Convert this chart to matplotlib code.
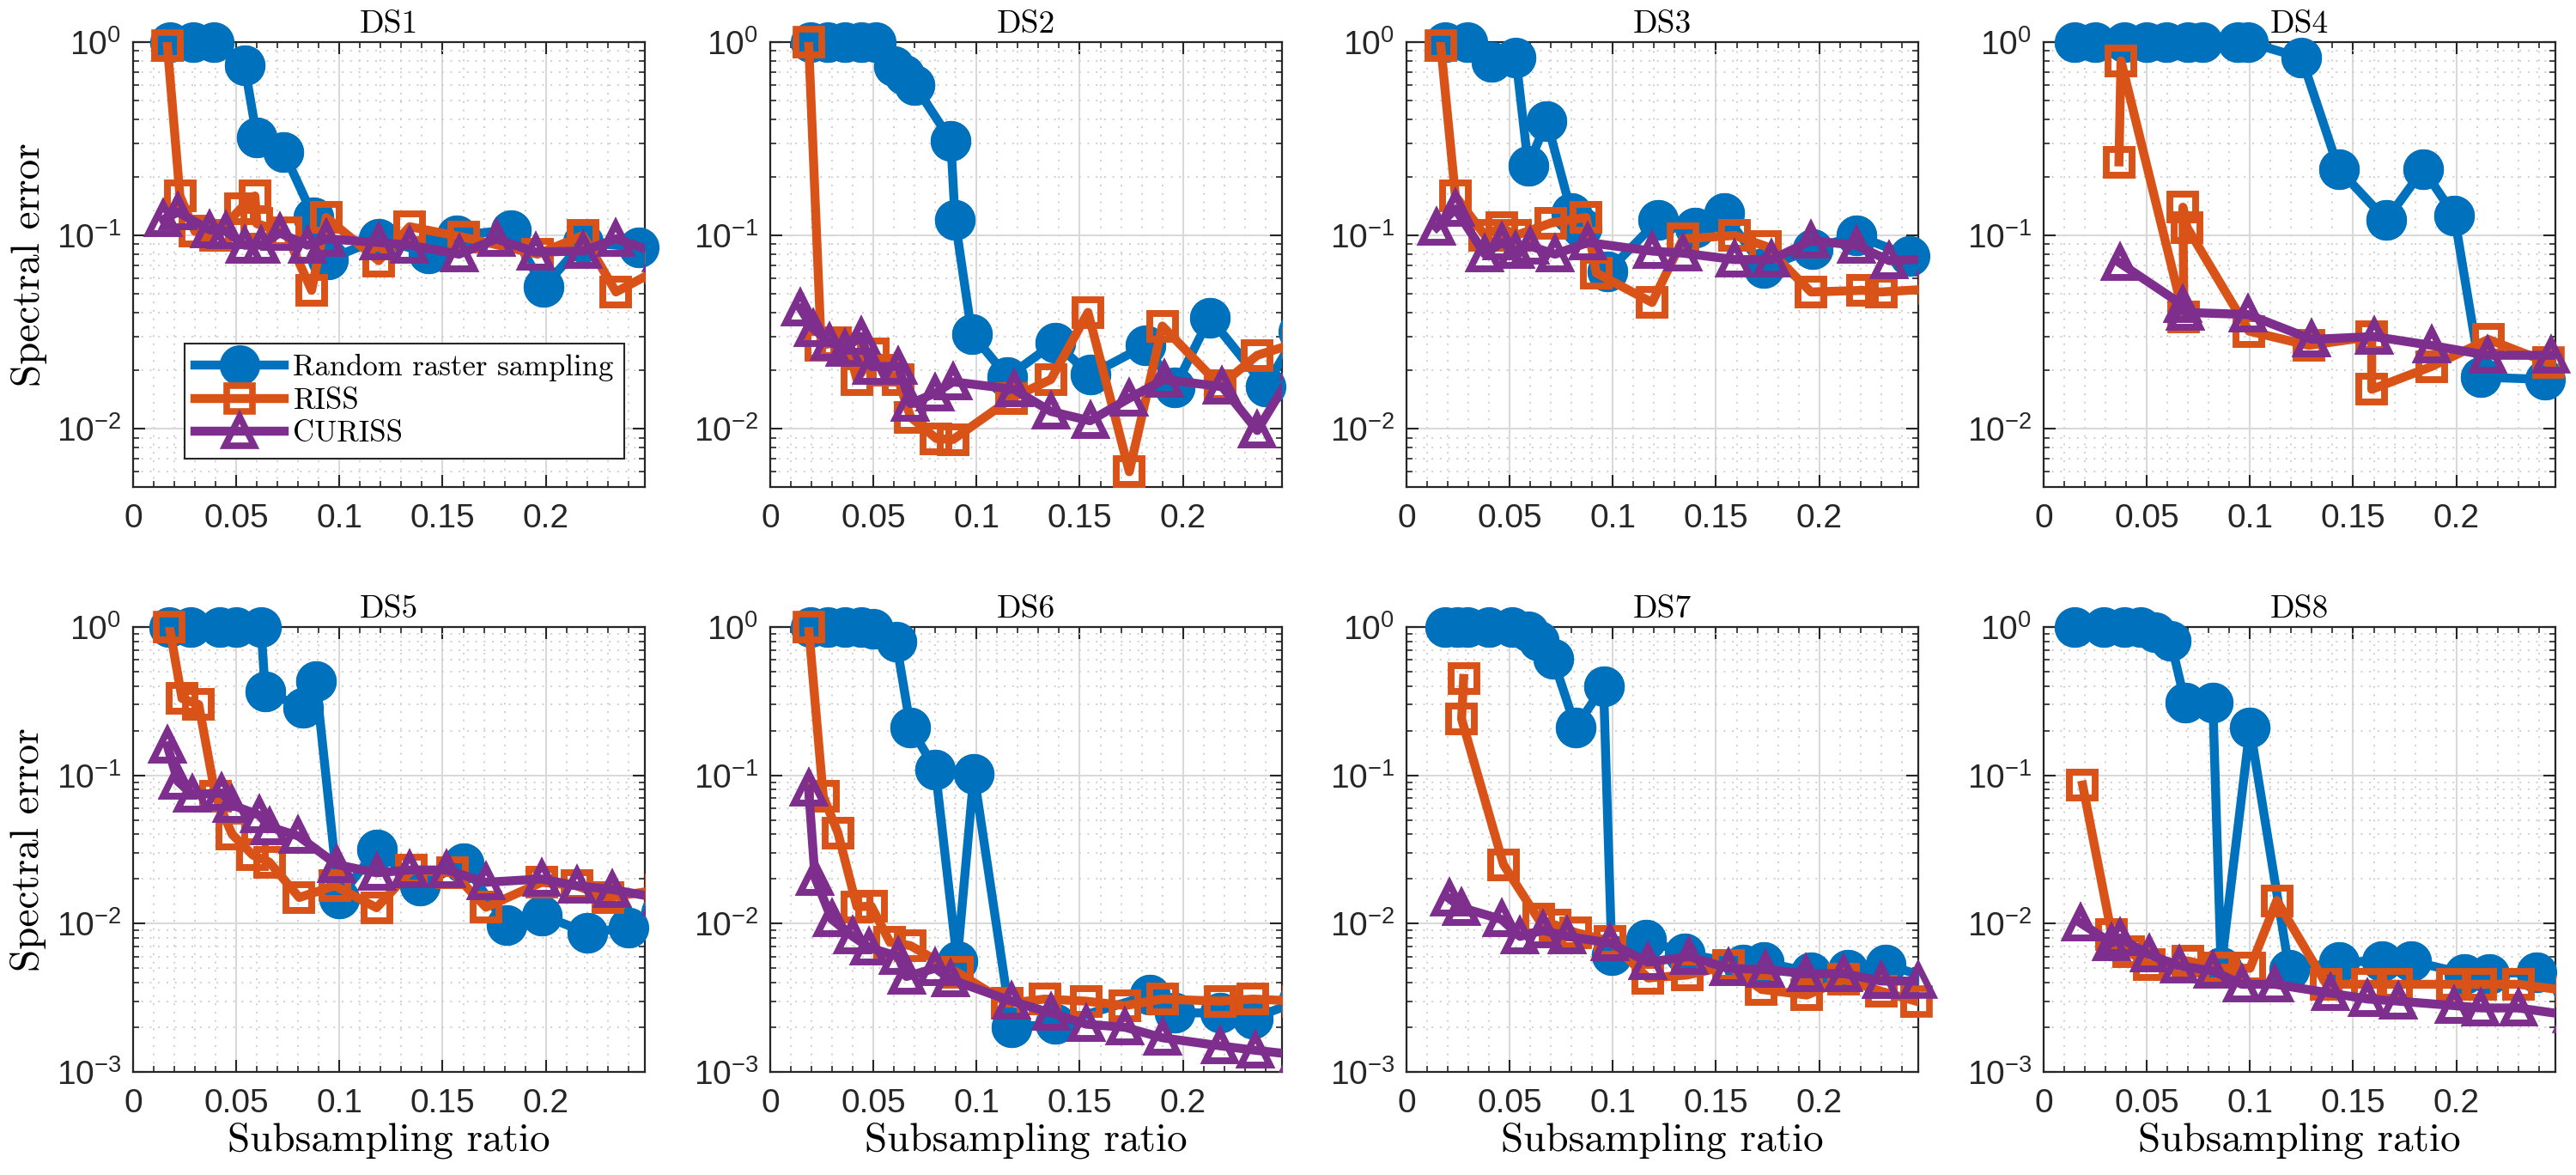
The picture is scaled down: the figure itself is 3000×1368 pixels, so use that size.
import numpy as np
import matplotlib
matplotlib.use("Agg")
import matplotlib.pyplot as plt
from matplotlib.ticker import FixedLocator, MultipleLocator, LogLocator, NullFormatter

plt.rcParams['font.family'] = ['Liberation Sans', 'DejaVu Sans']
plt.rcParams['mathtext.fontset'] = 'custom'
plt.rcParams['mathtext.rm'] = 'Liberation Sans'
plt.rcParams['mathtext.it'] = 'Liberation Sans:italic'
plt.rcParams['mathtext.bf'] = 'Liberation Sans:bold'

# (subsampling ratio, spectral error)
ds1_rrs = [(0.018, 1), (0.029, 1), (0.039, 1), (0.054, 0.76), (0.060, 0.32), (0.073, 0.27), (0.0875, 0.124),
           (0.0946, 0.075), (0.119, 0.096), (0.143, 0.081), (0.157, 0.10), (0.183, 0.107), (0.199, 0.054),
           (0.218, 0.092), (0.245, 0.087)]
ds1_riss = [(0.0166, 0.96), (0.0227, 0.16), (0.030, 0.105), (0.040, 0.10), (0.052, 0.137), (0.059, 0.16),
            (0.060, 0.115), (0.074, 0.103), (0.0865, 0.052), (0.0936, 0.124), (0.119, 0.074), (0.134, 0.111),
            (0.160, 0.098), (0.196, 0.08), (0.218, 0.10), (0.234, 0.051), (0.256, 0.068)]
ds1_curiss = [(0.0146, 0.121), (0.0217, 0.132), (0.0369, 0.107), (0.045, 0.105), (0.054, 0.089), (0.062, 0.089),
              (0.071, 0.103), (0.0845, 0.089), (0.0936, 0.096), (0.119, 0.092), (0.134, 0.089), (0.158, 0.080),
              (0.176, 0.096), (0.195, 0.082), (0.218, 0.083), (0.234, 0.096), (0.256, 0.08)]

ds2_rrs = [(0.0197, 1), (0.0278, 1), (0.036, 1), (0.044, 1), (0.051, 1), (0.060, 0.75), (0.065, 0.68),
           (0.070, 0.6), (0.0875, 0.31), (0.0896, 0.12), (0.0977, 0.031), (0.115, 0.0185), (0.138, 0.028),
           (0.155, 0.019), (0.182, 0.027), (0.196, 0.0163), (0.213, 0.0376), (0.240, 0.0165), (0.256, 0.032)]
ds2_riss = [(0.0186, 1), (0.0247, 0.027), (0.0318, 0.028), (0.038, 0.026), (0.042, 0.018), (0.050, 0.0244),
            (0.056, 0.02), (0.062, 0.018), (0.068, 0.0115), (0.0805, 0.0089), (0.0886, 0.0088), (0.117, 0.0144),
            (0.136, 0.018), (0.154, 0.040), (0.174, 0.006), (0.190, 0.034), (0.218, 0.0167), (0.236, 0.024),
            (0.256, 0.028)]
ds2_curiss = [(0.0146, 0.042), (0.0207, 0.033), (0.0288, 0.028), (0.036, 0.026), (0.044, 0.030), (0.049, 0.021),
              (0.062, 0.021), (0.068, 0.0135), (0.080, 0.0153), (0.0886, 0.0175), (0.118, 0.016), (0.136, 0.0123),
              (0.155, 0.011), (0.174, 0.0144), (0.191, 0.018), (0.219, 0.0165), (0.236, 0.0098), (0.256, 0.022)]

ds3_rrs = [(0.0186, 1), (0.0297, 1), (0.041, 0.79), (0.053, 0.83), (0.059, 0.23), (0.068, 0.39), (0.080, 0.13),
           (0.085, 0.11), (0.0975, 0.065), (0.122, 0.12), (0.140, 0.11), (0.154, 0.13), (0.173, 0.068),
           (0.197, 0.085), (0.218, 0.10), (0.244, 0.078)]
ds3_riss = [(0.0166, 0.96), (0.0237, 0.16), (0.038, 0.10), (0.046, 0.11), (0.053, 0.10), (0.070, 0.116),
            (0.087, 0.124), (0.092, 0.064), (0.119, 0.045), (0.134, 0.096), (0.159, 0.10), (0.174, 0.088),
            (0.196, 0.051), (0.221, 0.052), (0.230, 0.051), (0.256, 0.053)]
ds3_curiss = [(0.0146, 0.11), (0.0237, 0.137), (0.038, 0.08), (0.046, 0.092), (0.053, 0.083), (0.060, 0.088),
              (0.072, 0.08), (0.088, 0.092), (0.119, 0.083), (0.134, 0.081), (0.159, 0.075), (0.177, 0.075),
              (0.196, 0.094), (0.218, 0.089), (0.234, 0.074), (0.256, 0.076)]

ds4_rrs = [(0.0148, 1), (0.025, 1), (0.039, 1), (0.050, 1), (0.0595, 1), (0.0697, 1), (0.077, 1), (0.094, 1),
           (0.099, 1), (0.125, 0.83), (0.143, 0.22), (0.166, 0.12), (0.184, 0.22), (0.199, 0.127),
           (0.212, 0.0185), (0.243, 0.018), (0.256, 0.02)]
ds4_riss = [(0.0365, 0.24), (0.0375, 0.80), (0.068, 0.038), (0.0675, 0.14), (0.0695, 0.11), (0.0995, 0.032),
            (0.1285, 0.027), (0.159, 0.030), (0.159, 0.016), (0.188, 0.021), (0.2155, 0.029), (0.2445, 0.022),
            (0.256, 0.022)]
ds4_curiss = [(0.037, 0.072), (0.0676, 0.0435), (0.0686, 0.040), (0.099, 0.039), (0.130, 0.029), (0.160, 0.030),
              (0.188, 0.027), (0.215, 0.024), (0.246, 0.024)]

ds5_rrs = [(0.0176, 1), (0.0278, 1), (0.042, 1), (0.050, 1), (0.062, 1), (0.064, 0.37), (0.0825, 0.284),
           (0.0886, 0.43), (0.0997, 0.0148), (0.118, 0.0316), (0.139, 0.018), (0.160, 0.0257), (0.181, 0.0098),
           (0.198, 0.0114), (0.220, 0.0087), (0.240, 0.0094), (0.256, 0.012)]
ds5_riss = [(0.0176, 1), (0.0237, 0.33), (0.0318, 0.30), (0.040, 0.072), (0.048, 0.040), (0.058, 0.029),
            (0.066, 0.026), (0.0805, 0.015), (0.0977, 0.018), (0.118, 0.0128), (0.135, 0.023), (0.155, 0.022),
            (0.171, 0.0129), (0.198, 0.019), (0.215, 0.018), (0.230, 0.015), (0.256, 0.017)]
ds5_curiss = [(0.0166, 0.158), (0.0217, 0.091), (0.0288, 0.074), (0.043, 0.076), (0.048, 0.063), (0.061, 0.054),
              (0.066, 0.045), (0.080, 0.039), (0.0987, 0.025), (0.118, 0.022), (0.134, 0.023), (0.152, 0.023),
              (0.171, 0.019), (0.198, 0.020), (0.215, 0.018), (0.232, 0.017), (0.256, 0.0148)]

ds6_rrs = [(0.0197, 1), (0.0278, 1), (0.036, 1), (0.044, 1), (0.050, 0.98), (0.061, 0.80), (0.068, 0.21),
           (0.080, 0.11), (0.0906, 0.0056), (0.0987, 0.102), (0.117, 0.0020), (0.138, 0.0021), (0.184, 0.0033),
           (0.196, 0.0025), (0.218, 0.0025), (0.234, 0.0023), (0.256, 0.0030)]
ds6_riss = [(0.0186, 1), (0.0257, 0.072), (0.0328, 0.041), (0.042, 0.013), (0.049, 0.0131), (0.058, 0.0075),
            (0.068, 0.0071), (0.0906, 0.0047), (0.115, 0.0029), (0.133, 0.0031), (0.153, 0.0030), (0.172, 0.0028),
            (0.190, 0.0031), (0.218, 0.0030), (0.234, 0.0031), (0.256, 0.0030)]
ds6_curiss = [(0.0186, 0.081), (0.0217, 0.0204), (0.0298, 0.0107), (0.040, 0.0082), (0.048, 0.0069),
              (0.062, 0.006), (0.066, 0.0044), (0.080, 0.005), (0.0875, 0.0042), (0.117, 0.0030), (0.136, 0.0025),
              (0.153, 0.0021), (0.172, 0.0020), (0.190, 0.0017), (0.218, 0.0015), (0.235, 0.0014), (0.256, 0.0013)]

ds7_rrs = [(0.0186, 1), (0.0247, 1), (0.0297, 1), (0.040, 1), (0.051, 1), (0.059, 0.94), (0.064, 0.81),
           (0.071, 0.61), (0.082, 0.21), (0.0955, 0.40), (0.0995, 0.0061), (0.116, 0.0078), (0.135, 0.0063),
           (0.163, 0.0053), (0.173, 0.0055), (0.196, 0.0047), (0.214, 0.0049), (0.232, 0.0053), (0.256, 0.0042)]
ds7_riss = [(0.0277, 0.45), (0.0267, 0.24), (0.047, 0.025), (0.064, 0.0107), (0.072, 0.0098), (0.082, 0.0087),
            (0.0985, 0.0076), (0.117, 0.0043), (0.136, 0.0045), (0.156, 0.0052), (0.172, 0.0036), (0.194, 0.0033),
            (0.212, 0.0042), (0.230, 0.0035), (0.247, 0.0030)]
ds7_curiss = [(0.0206, 0.0148), (0.0267, 0.0128), (0.046, 0.0107), (0.055, 0.0082), (0.066, 0.009),
              (0.078, 0.0082), (0.0985, 0.0074), (0.117, 0.0055), (0.137, 0.006), (0.156, 0.005), (0.174, 0.0049),
              (0.1935, 0.0046), (0.212, 0.0046), (0.230, 0.0041), (0.248, 0.0041)]

ds8_rrs = [(0.0148, 1), (0.029, 1), (0.039, 1), (0.047, 1), (0.054, 0.92), (0.0615, 0.81), (0.0686, 0.31),
           (0.082, 0.31), (0.086, 0.0051), (0.100, 0.21), (0.119, 0.0049), (0.143, 0.0055), (0.164, 0.0056),
           (0.178, 0.0056), (0.204, 0.0046), (0.216, 0.0046), (0.239, 0.0047), (0.256, 0.0038)]
ds8_riss = [(0.0189, 0.086), (0.033, 0.0085), (0.041, 0.0065), (0.051, 0.0053), (0.070, 0.0056), (0.085, 0.0050),
            (0.100, 0.0050), (0.113, 0.0143), (0.137, 0.0039), (0.157, 0.0039), (0.171, 0.0039), (0.198, 0.0039),
            (0.212, 0.0039), (0.230, 0.0039), (0.256, 0.0035)]
ds8_curiss = [(0.0179, 0.0101), (0.033, 0.0074), (0.037, 0.008), (0.051, 0.0062), (0.0656, 0.0052),
              (0.082, 0.0048), (0.096, 0.0039), (0.112, 0.0039), (0.139, 0.0034), (0.157, 0.0031), (0.172, 0.0030),
              (0.199, 0.0028), (0.212, 0.0027), (0.230, 0.0027), (0.256, 0.0024)]

titles = ["DS1", "DS2", "DS3", "DS4", "DS5", "DS6", "DS7", "DS8"]
panels = [(ds1_rrs, ds1_riss, ds1_curiss), (ds2_rrs, ds2_riss, ds2_curiss),
          (ds3_rrs, ds3_riss, ds3_curiss), (ds4_rrs, ds4_riss, ds4_curiss),
          (ds5_rrs, ds5_riss, ds5_curiss), (ds6_rrs, ds6_riss, ds6_curiss),
          (ds7_rrs, ds7_riss, ds7_curiss), (ds8_rrs, ds8_riss, ds8_curiss)]
method_names = ["Random raster sampling", "RISS", "CURISS"]
x_ticks = [0, 0.05, 0.1, 0.15, 0.2]
x_tick_labels = ["0", "0.05", "0.1", "0.15", "0.2"]

colors = ["#0072BD", "#D95319", "#7E2F8E"]
styles = [dict(marker="o", ms=29, mew=5, mfc=colors[0], mec=colors[0]),
          dict(marker="s", ms=22, mew=5.5, mfc="none", mec=colors[1]),
          dict(marker="^", ms=24, mew=5.5, mfc="none", mec=colors[2])]
serif = "cmr10"
xmax = 0.248

fig = plt.figure(figsize=(30, 13.68), dpi=100)
W, H = 3000, 1368
lefts = [155, 897, 1638, 2380]
tops = [49, 730]
aw, ah = 596, 518

for k, (title, series) in enumerate(zip(titles, panels)):
    r, c = divmod(k, 4)
    ax = fig.add_axes([lefts[c] / W, (H - tops[r] - ah) / H, aw / W, ah / H])
    for i, s in enumerate(series):
        x = np.array([p[0] for p in s])
        y = np.array([p[1] for p in s])
        ax.plot(x, y, color=colors[i], lw=7.5, solid_joinstyle="round", label=method_names[i],
                **styles[i], zorder=3 + i)
        keep = x <= xmax
        ax.plot(x[keep], y[keep], ls="none", clip_on=False, **styles[i], zorder=3 + i)

    ax.set_yscale("log")
    ax.set_xlim(0, xmax)
    ax.set_ylim(0.005 if r == 0 else 0.001, 1)
    ax.xaxis.set_major_locator(FixedLocator(x_ticks))
    ax.set_xticklabels(x_tick_labels)
    ax.xaxis.set_minor_locator(MultipleLocator(0.01))
    ax.yaxis.set_major_locator(LogLocator(base=10, numticks=10))
    ax.yaxis.set_minor_locator(LogLocator(base=10, subs=np.arange(2, 10), numticks=10))
    ax.yaxis.set_minor_formatter(NullFormatter())

    ax.grid(True, which="major", color="#d9d9d9", lw=1.5, ls="-")
    ax.grid(True, which="minor", color="#cfcfcf", lw=1.4, ls=(0, (1, 4)))
    ax.set_axisbelow(True)
    ax.tick_params(which="both", direction="in", top=True, right=True, colors="#262626",
                   labelsize=28, labelcolor="#262626")
    ax.tick_params(which="major", length=10, width=1.5)
    ax.tick_params(which="minor", length=5, width=1.2)
    ax.tick_params(axis="x", pad=14)
    ax.tick_params(axis="y", pad=10)
    for sp in ax.spines.values():
        sp.set_color("#262626")
        sp.set_linewidth(1.6)

    ax.set_title(title, fontfamily=serif, fontsize=27, pad=8)
    if c == 0:
        ax.set_ylabel("Spectral error", fontfamily=serif, fontsize=34, labelpad=8)
    if r == 1:
        ax.set_xlabel("Subsampling ratio", fontfamily=serif, fontsize=34, labelpad=2)

    if k == 0:
        leg = ax.legend(loc="lower left", bbox_to_anchor=(0.071, 0.031), prop={"family": serif, "size": 25},
                        numpoints=1, handlelength=3.0, handletextpad=0.3, labelspacing=0.2,
                        borderpad=0.35, fancybox=False, framealpha=1, edgecolor="#262626")
        leg.get_frame().set_linewidth(1.5)
        leg.set_zorder(10)

fig.savefig("out.png", dpi=100)
